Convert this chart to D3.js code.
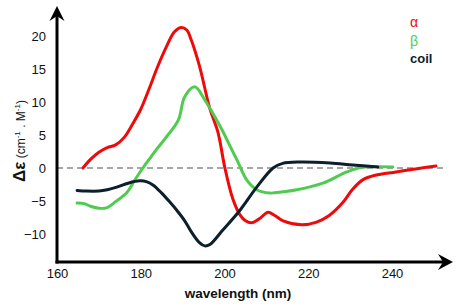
<!DOCTYPE html>
<html><head><meta charset="utf-8">
<script src="https://cdn.jsdelivr.net/npm/d3@7"></script>
<style>body{margin:0;background:#fff}svg{display:block}text{font-family:"Liberation Sans",Arial,sans-serif}</style>
</head><body><svg id="c" width="462" height="306"></svg>
<script>
const xTicks=[160,180,200,220,240];
const yTicks=[-10,-5,0,5,10,15,20];
const alphaWl=[166.2,168,170,172,174,176,178,180,182,184,186,188,189.6,191,192,194,196.5,198.4,200.1,202,203.7,205,206.5,208.5,210.4,212,214,218.5,222,225,228.3,230.5,233,236,241,246,250.5];
const alphaVal=[0,1.3,2.4,3.1,3.5,4.6,6.6,8.9,12,15.3,18.2,20.6,21.3,20.9,19.5,15.5,9,5.5,0,-4.7,-7.1,-8,-8.3,-7.6,-6.7,-7.2,-8,-8.6,-8.2,-7.2,-5.2,-3.3,-1.8,-1.1,-0.6,-0.1,0.3];
const betaWl=[164.8,166.5,168,170,172,174,176.7,178.5,180.5,182,184,186,189,190.5,192.9,195.3,197.2,199.4,201.8,203,205.3,207.7,210.8,214,217.3,223.5,229.2,233,240.2];
const betaVal=[-5.3,-5.4,-5.8,-6.1,-6.0,-5.1,-3.7,-1.9,0,1.3,3,4.6,7.3,10.8,12.3,10.3,8.3,5.8,2.7,1.2,-1.8,-3.3,-3.8,-3.6,-3.3,-2.3,-0.6,0.1,0.15];
const coilWl=[164.8,167,170,172,174.3,177,179.8,181.5,183,185,187,188.6,190.5,192,194,195.3,196.5,199.6,203.7,207.7,211.6,213.9,218,225.2,230.6,236.6];
const coilVal=[-3.4,-3.5,-3.5,-3.3,-2.9,-2.3,-1.95,-2.1,-2.6,-3.8,-5.2,-6.4,-8,-9.6,-11.3,-11.8,-11.6,-9.4,-6.4,-2.9,0,0.7,0.9,0.75,0.45,0.15];
const seriesNames=["α","β","coil"];

const svg=d3.select("#c");
const x=d3.scaleLinear().domain([160,240]).range([57,392]);
const y=d3.scaleLinear().domain([0,20]).range([168,36]);
const x0=57, yb=262;

svg.append("line").attr("x1",x0).attr("x2",445).attr("y1",y(0)).attr("y2",y(0))
  .attr("stroke","#8a8a8a").attr("stroke-width",1.6).attr("stroke-dasharray","6,4");

const line=d3.line().x(d=>x(d[0])).y(d=>y(d[1])).curve(d3.curveCatmullRom.alpha(0.5));
const series=[
  {wl:alphaWl,v:alphaVal,c:"#ee0a0a"},
  {wl:betaWl,v:betaVal,c:"#4fcb50"},
  {wl:coilWl,v:coilVal,c:"#0b1f2c"}
];
series.forEach(s=>{
  svg.append("path").datum(s.wl.map((w,i)=>[w,s.v[i]])).attr("d",line)
    .attr("fill","none").attr("stroke",s.c).attr("stroke-width",3).attr("stroke-linecap","round");
});

const gx=svg.append("g").attr("transform",`translate(0,${yb})`).call(d3.axisBottom(x).tickValues(xTicks).tickSize(0).tickPadding(7));
gx.select(".domain").remove();
gx.selectAll("text").attr("font-size",13).attr("fill","#111").style("font-family","Liberation Sans, Arial, sans-serif");
const gy=svg.append("g").attr("transform",`translate(${x0},0)`).call(d3.axisLeft(y).tickValues(yTicks).tickSize(0).tickPadding(11));
gy.select(".domain").remove();
gy.selectAll("text").attr("font-size",13).attr("fill","#111").style("font-family","Liberation Sans, Arial, sans-serif");

svg.append("line").attr("x1",x0).attr("x2",x0).attr("y1",yb+1.5).attr("y2",14).attr("stroke","#000").attr("stroke-width",3);
svg.append("line").attr("x1",x0-1.5).attr("x2",446).attr("y1",yb).attr("y2",yb).attr("stroke","#000").attr("stroke-width",3);
svg.append("path").attr("d",`M${x0},6 L${x0+7.5},21 L${x0},16 L${x0-7.5},21 Z`).attr("fill","#000");
svg.append("path").attr("d",`M453,${yb} L438,${yb-8} L443,${yb} L438,${yb+8} Z`).attr("fill","#000");

svg.append("text").attr("x",238).attr("y",298).attr("text-anchor","middle").attr("font-size",13.5).attr("font-weight","bold").attr("fill","#111").text("wavelength (nm)");
const yt=svg.append("text").attr("transform","translate(25,141) rotate(-90)").attr("text-anchor","middle").attr("fill","#111");
yt.append("tspan").attr("font-size",17).attr("font-weight","bold").text("Δε");
yt.append("tspan").attr("font-size",12).text(" (cm");
yt.append("tspan").attr("font-size",8).attr("dy",-5).text("-1");
yt.append("tspan").attr("font-size",12).attr("dy",5).text(" . M");
yt.append("tspan").attr("font-size",8).attr("dy",-5).text("-1");
yt.append("tspan").attr("font-size",12).attr("dy",5).text(")");

const legY=[27,46,63];
seriesNames.forEach((n,i)=>{
  svg.append("text").attr("x",410).attr("y",legY[i]).attr("font-size",i==2?13:14)
    .attr("font-weight",i==2?"bold":"normal").attr("fill",series[i].c).text(n);
});
</script></body></html>
